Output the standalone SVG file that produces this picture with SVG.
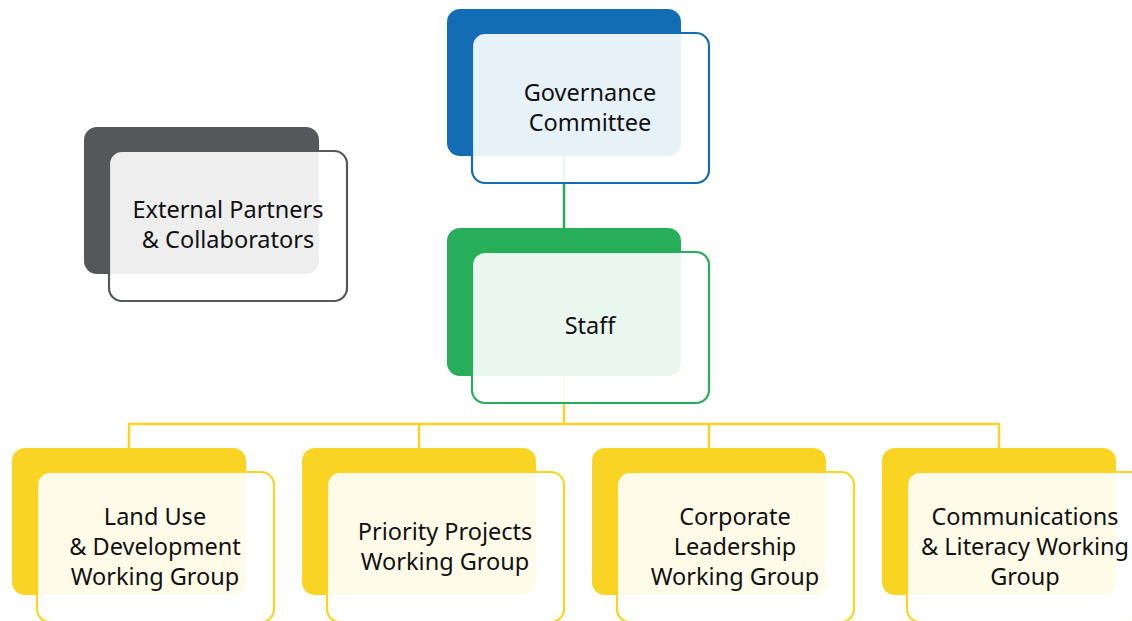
<svg xmlns="http://www.w3.org/2000/svg" width="1132" height="621" viewBox="0 0 1132 621">
<style>
.back{stroke:none}
.front{fill:#ffffff;fill-opacity:0.9;stroke-width:2.2}
.lbl{font-family:"Noto Sans","Open Sans",sans-serif;font-size:23.5px;fill:#111111;text-anchor:middle}
.blue .back{fill:#136DB5}.blue .front{stroke:#136DB5}
.green .back{fill:#27AE5A}.green .front{stroke:#27AE5A}
.gray .back{fill:#54585A}.gray .front{stroke:#54585A}
.yellow .back{fill:#FAD422}.yellow .front{stroke:#FAD422}
.conn{fill:none;stroke-width:2.5}
</style>
<rect width="1132" height="621" fill="#ffffff"/>
<g id="connectors">
<line class="conn" x1="564" y1="150" x2="564" y2="232" stroke="#27AE5A"/>
<path class="conn" stroke="#FAD422" d="M564 370 V424 M129 452 V424 H999 V452 M419 424 V452 M709 424 V452"/>
</g>
<g id="governance" class="blue">
<rect class="back" x="447" y="9" width="234" height="147" rx="13"/>
<rect class="front" x="472" y="33" width="237" height="150" rx="13"/>
<text class="lbl" x="590" y="101">Governance</text>
<text class="lbl" x="590" y="131">Committee</text>
</g>
<g id="external" class="gray">
<rect class="back" x="84" y="127" width="235" height="147" rx="13"/>
<rect class="front" x="109" y="151" width="238" height="150" rx="13"/>
<text class="lbl" x="228" y="218">External Partners</text>
<text class="lbl" x="228" y="248">&amp; Collaborators</text>
</g>
<g id="staff" class="green">
<rect class="back" x="447" y="228" width="234" height="148" rx="13"/>
<rect class="front" x="472" y="252" width="237" height="151" rx="13"/>
<text class="lbl" x="590" y="334">Staff</text>
</g>
<g id="landuse" class="yellow">
<rect class="back" x="12" y="448" width="234" height="147" rx="13"/>
<rect class="front" x="37" y="472" width="237" height="150" rx="13"/>
<text class="lbl" x="155" y="525">Land Use</text>
<text class="lbl" x="155" y="555">&amp; Development</text>
<text class="lbl" x="155" y="585">Working Group</text>
</g>
<g id="priority" class="yellow">
<rect class="back" x="302" y="448" width="234" height="147" rx="13"/>
<rect class="front" x="327" y="472" width="237" height="150" rx="13"/>
<text class="lbl" x="445" y="540">Priority Projects</text>
<text class="lbl" x="445" y="570">Working Group</text>
</g>
<g id="corporate" class="yellow">
<rect class="back" x="592" y="448" width="234" height="147" rx="13"/>
<rect class="front" x="617" y="472" width="237" height="150" rx="13"/>
<text class="lbl" x="735" y="525">Corporate</text>
<text class="lbl" x="735" y="555">Leadership</text>
<text class="lbl" x="735" y="585">Working Group</text>
</g>
<g id="communications" class="yellow">
<rect class="back" x="882" y="448" width="234" height="147" rx="13"/>
<rect class="front" x="907" y="472" width="237" height="150" rx="13"/>
<text class="lbl" x="1025" y="525">Communications</text>
<text class="lbl" x="1025" y="555">&amp; Literacy Working</text>
<text class="lbl" x="1025" y="585">Group</text>
</g>
</svg>
